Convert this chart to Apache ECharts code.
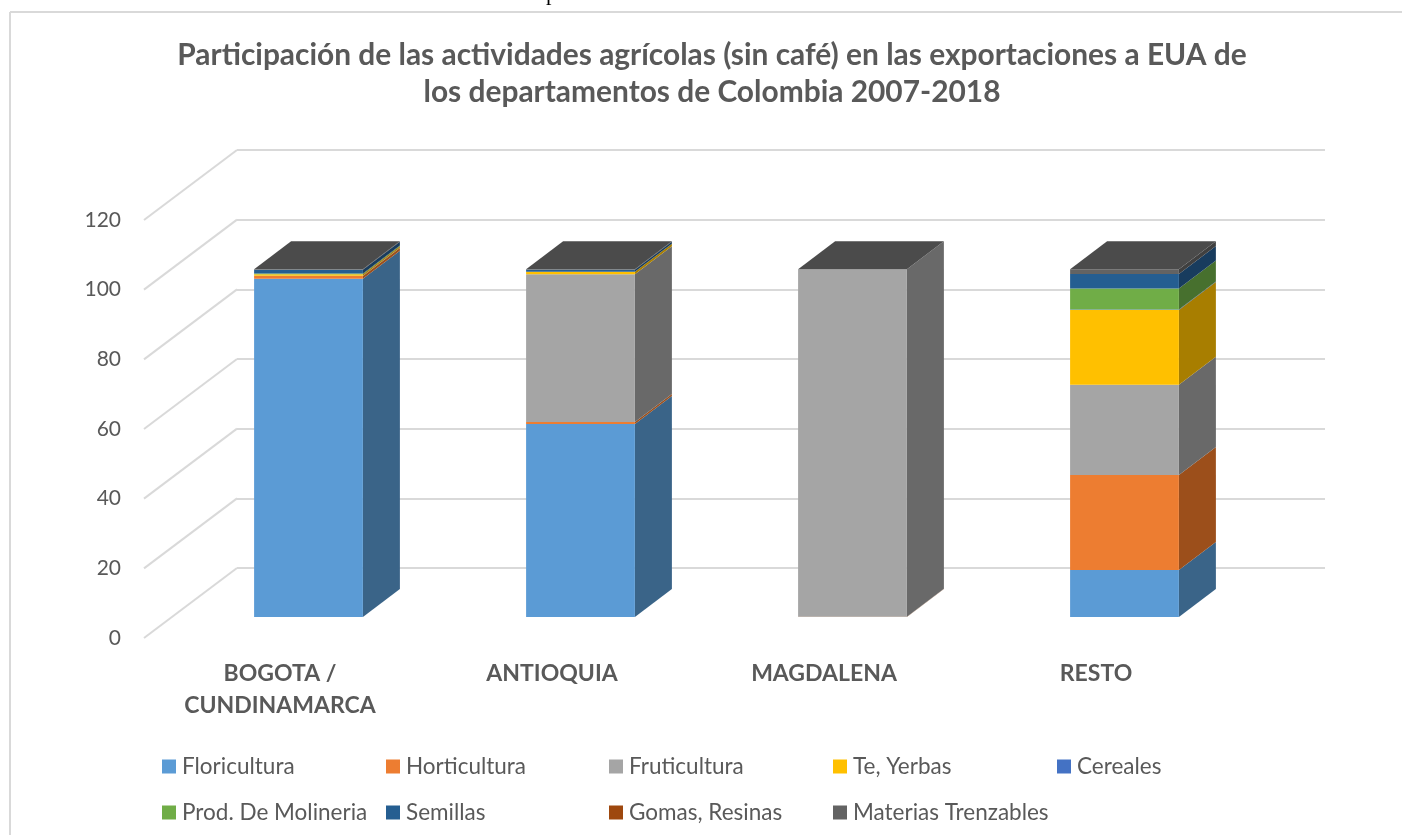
<!DOCTYPE html>
<html>
<head>
<meta charset="utf-8">
<style>html,body{margin:0;padding:0;background:#fff}#main{width:1402px;height:835px}</style>
<script src="https://cdn.jsdelivr.net/npm/echarts@6/dist/echarts.min.js"></script>
</head>
<body>
<div id="main"></div>
<script>
const categories = ['BOGOTA /\nCUNDINAMARCA', 'ANTIOQUIA', 'MAGDALENA', 'RESTO'];
const yTicks = [0, 20, 40, 60, 80, 100, 120];

const floricultura = [97.1, 55.4, 0, 13.5];
const horticultura = [0.8, 0.6, 0.1, 27.3];
const fruticultura = [0.1, 42.4, 99.7, 25.9];
const teYerbas = [0.4, 0.7, 0, 21.4];
const cereales = [0, 0, 0, 0.2];
const molineria = [0.2, 0, 0, 6.0];
const semillas = [1.1, 0.6, 0, 4.2];
const gomas = [0, 0, 0, 0];
const trenzables = [0.1, 0.1, 0, 1.3];

const seriesNames = ['Floricultura', 'Horticultura', 'Fruticultura', 'Te, Yerbas', 'Cereales',
  'Prod. De Molineria', 'Semillas', 'Gomas, Resinas', 'Materias Trenzables'];
const seriesValues = [floricultura, horticultura, fruticultura, teYerbas, cereales,
  molineria, semillas, gomas, trenzables];
const frontColors = ['#5b9bd5', '#ed7d31', '#a5a5a5', '#ffc000', '#4472c4', '#70ad47', '#255e91', '#9e480e', '#636363'];
const sideColors = ['#3a6488', '#9c4f1b', '#696969', '#a87e00', '#2c4a80', '#47702e', '#183c5e', '#662e09', '#404040'];
const topColor = '#4b4b4b';

// how far the bars and the wall sit behind their front edge
const barDepth = [37, -28];
const floorDepth = [93, -70];
const textColor = '#595959';
const font = 'Lato';

// stack the segments by hand, custom series do not do it
const running = categories.map(() => 0);
const stackedSeries = seriesNames.map((name, s) => {
  const data = categories.map((c, i) => {
    const start = running[i];
    running[i] += seriesValues[s][i];
    return [i, start, running[i]];
  });
  return {
    name: name,
    type: 'custom',
    xAxisIndex: 2,
    yAxisIndex: 2,
    z: 5,
    itemStyle: {color: frontColors[s]},
    encode: {x: 0, y: [1, 2]},
    data: data,
    renderItem: function (params, api) {
      const base = api.coord([api.value(0), api.value(1)]);
      const top = api.coord([api.value(0), api.value(2)]);
      const w = api.size([1, 0])[0] * 0.4;
      const x0 = base[0] - w / 2;
      const x1 = base[0] + w / 2;
      const children = [];
      if (top[1] < base[1]) {
        children.push({
          type: 'polygon',
          shape: {points: [[x1, base[1]], [x1 + barDepth[0], base[1] + barDepth[1]], [x1 + barDepth[0], top[1] + barDepth[1]], [x1, top[1]]]},
          style: {fill: sideColors[s]}
        });
        children.push({
          type: 'rect',
          shape: {x: x0, y: top[1], width: w, height: base[1] - top[1]},
          style: {fill: frontColors[s]}
        });
      }
      // last series puts the lid on
      if (s === seriesNames.length - 1) {
        children.push({
          type: 'polygon',
          shape: {points: [[x0, top[1]], [x1, top[1]], [x1 + barDepth[0], top[1] + barDepth[1]], [x0 + barDepth[0], top[1] + barDepth[1]]]},
          style: {fill: topColor}
        });
      }
      return {type: 'group', children: children};
    }
  };
});

const floorLines = {
  type: 'custom',
  xAxisIndex: 0,
  yAxisIndex: 0,
  silent: true,
  z: 1,
  data: yTicks.map(v => [0, v]),
  encode: {y: 1},
  renderItem: function (params, api) {
    const p = api.coord([api.value(0), api.value(1)]);
    const left = params.coordSys.x;
    return {
      type: 'line',
      shape: {x1: left, y1: p[1], x2: left + floorDepth[0], y2: p[1] + floorDepth[1]},
      style: {stroke: '#d9d9d9', lineWidth: 2}
    };
  }
};

function valueAxis(gridIndex, showLabels, showLines) {
  return {
    type: 'value',
    gridIndex: gridIndex,
    min: 0,
    max: 120,
    interval: 20,
    axisLine: {show: false},
    axisTick: {show: false},
    axisLabel: {show: showLabels, color: textColor, fontFamily: font, fontSize: 21, margin: 23},
    splitLine: {show: showLines, lineStyle: {color: '#d9d9d9', width: 2}}
  };
}

function categoryAxis(gridIndex, showLabels) {
  return {
    type: 'category',
    gridIndex: gridIndex,
    data: categories,
    axisLine: {show: false},
    axisTick: {show: false},
    axisLabel: {show: showLabels, interval: 0, color: textColor, fontFamily: font, fontWeight: 'bold', fontSize: 23, lineHeight: 32, margin: 20}
  };
}

const legendColumns = [
  {left: 162, data: [seriesNames[0], seriesNames[5]]},
  {left: 386, data: [seriesNames[1], seriesNames[6]]},
  {left: 609, data: [seriesNames[2], seriesNames[7]]},
  {left: 833, data: [seriesNames[3], seriesNames[8]]},
  {left: 1057, data: [seriesNames[4]]}
];

const option = {
  animation: false,
  backgroundColor: '#fff',
  title: {
    text: 'Participación de las actividades agrícolas (sin café) en las exportaciones a EUA de\nlos departamentos de Colombia 2007-2018',
    left: 707,
    top: 32,
    textAlign: 'center',
    textStyle: {color: textColor, fontFamily: font, fontWeight: 'bold', fontSize: 29.9, lineHeight: 37}
  },
  legend: legendColumns.map(c => ({
    left: c.left,
    top: 755,
    padding: 0,
    orient: 'vertical',
    data: c.data,
    icon: 'rect',
    itemWidth: 14,
    itemHeight: 14,
    itemGap: 23,
    textStyle: {color: textColor, fontFamily: font, fontSize: 22.5, padding: [0, 0, 0, 1]}
  })),
  grid: [
    {left: 144, top: 220, width: 1088, height: 418},
    {left: 237, top: 150, width: 1088, height: 418},
    {left: 172.5, top: 199, width: 1088, height: 418}
  ],
  xAxis: [categoryAxis(0, true), categoryAxis(1, false), categoryAxis(2, false)],
  yAxis: [valueAxis(0, true, false), valueAxis(1, false, true), valueAxis(2, false, false)],
  series: [floorLines].concat(stackedSeries),
  graphic: [
    {type: 'line', silent: true, shape: {x1: 10, y1: 12, x2: 1402, y2: 12}, style: {stroke: '#d9d9d9', lineWidth: 2}},
    {type: 'line', silent: true, shape: {x1: 10, y1: 12, x2: 10, y2: 835}, style: {stroke: '#d9d9d9', lineWidth: 2}},
    {type: 'text', silent: true, x: 668, y: 5, style: {text: 'Exportaciones a EUA 2007-2018', fill: '#000', font: '22px "Liberation Serif"', textAlign: 'center', textVerticalAlign: 'bottom'}}
  ]
};

echarts.init(document.getElementById('main')).setOption(option);
</script>
</body>
</html>
